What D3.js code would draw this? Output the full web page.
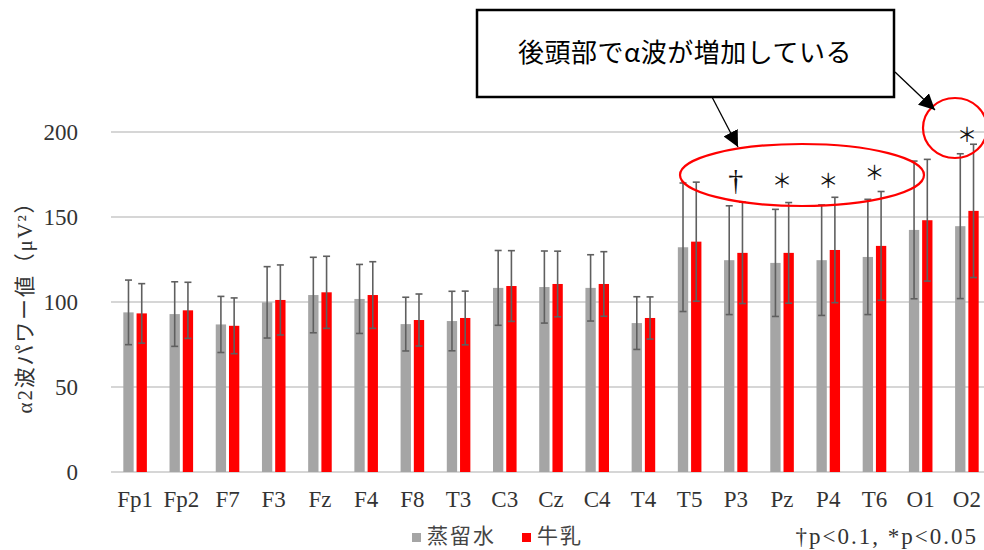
<!DOCTYPE html>
<html>
<head>
<meta charset="utf-8">
<script src="https://cdn.jsdelivr.net/npm/d3@7"></script>
<style>
  body { margin: 0; background: #fff; }
  svg { display: block; }
</style>
</head>
<body>
<svg id="chart"></svg>
<script>
// electrodes on the x axis
const categories = ['Fp1', 'Fp2', 'F7', 'F3', 'Fz', 'F4', 'F8', 'T3', 'C3', 'Cz', 'C4', 'T4', 'T5', 'P3', 'Pz', 'P4', 'T6', 'O1', 'O2']
const seriesNames = ['蒸留水', '牛乳']
// distilled water
const waterMean = [93.9, 92.9, 86.8, 99.8, 104.1, 101.8, 87.0, 88.8, 108.3, 108.8, 108.3, 87.6, 132.2, 124.6, 123.0, 124.6, 126.5, 142.4, 144.6]
const waterSD = [19.0, 19.0, 16.5, 21.0, 22.2, 20.3, 15.8, 17.5, 22.0, 21.2, 19.5, 15.5, 37.8, 32.0, 31.5, 32.5, 33.9, 40.5, 42.6]
// milk
const milkMean = [93.3, 95.1, 86.0, 101.2, 105.7, 104.1, 89.4, 90.6, 109.4, 110.6, 110.6, 90.6, 135.5, 128.9, 128.9, 130.6, 133.0, 148.1, 153.6]
const milkSD = [17.5, 16.5, 16.4, 20.6, 21.2, 19.6, 15.3, 15.8, 20.8, 19.3, 19.0, 12.4, 35.0, 29.8, 29.6, 31.0, 32.0, 35.8, 39.2]
const yTicks = [0, 50, 100, 150, 200]
// significance marks (electrode, symbol, height in µV²)
const sigMarks = [
  { cat: 'P3', sym: '†', at: 172 },
  { cat: 'Pz', sym: '＊', at: 171 },
  { cat: 'P4', sym: '＊', at: 171 },
  { cat: 'T6', sym: '＊', at: 176 },
  { cat: 'O2', sym: '＊', at: 198 }
]

const colors = ['#a5a5a5', '#ff0000']
const svgWidth = 984
const svgHeight = 550
const margin = { top: 132, right: -6, bottom: 78, left: 112 }
const width = svgWidth - margin.left - margin.right
const height = svgHeight - margin.top - margin.bottom

const svg = d3.select('#chart')
  .attr('width', svgWidth)
  .attr('height', svgHeight)

const g = svg.append('g')
  .attr('transform', `translate(${margin.left}, ${margin.top})`)

const x = d3.scaleBand()
  .domain(categories)
  .range([0, width])
  .paddingInner(0.49)
  .paddingOuter(0.245)

const xs = d3.scaleBand()
  .domain([0, 1])
  .range([0, x.bandwidth()])
  .paddingInner(0.22)

const y = d3.scaleLinear()
  .domain([0, 200])
  .range([height, 0])

// gridlines
g.selectAll('.grid')
  .data(yTicks)
  .enter().append('line')
  .attr('x1', -1)
  .attr('x2', width)
  .attr('y1', d => y(d))
  .attr('y2', d => y(d))
  .attr('stroke', '#c8c8c8')
  .attr('stroke-width', 1.6)

// y tick labels
g.selectAll('.ytick')
  .data(yTicks)
  .enter().append('text')
  .attr('x', -34)
  .attr('y', d => y(d))
  .attr('dy', '0.34em')
  .attr('text-anchor', 'end')
  .attr('font-family', '"Liberation Serif", serif')
  .attr('font-size', 23)
  .attr('fill', '#333')
  .text(d => d)

// x labels
g.selectAll('.xtick')
  .data(categories)
  .enter().append('text')
  .attr('x', d => x(d) + x.bandwidth() / 2)
  .attr('y', height + 35)
  .attr('text-anchor', 'middle')
  .attr('font-family', '"Liberation Serif", serif')
  .attr('font-size', 23)
  .attr('fill', '#333')
  .text(d => d)

const series = [
  categories.map((c, i) => ({ cat: c, v: waterMean[i], sd: waterSD[i], s: 0 })),
  categories.map((c, i) => ({ cat: c, v: milkMean[i], sd: milkSD[i], s: 1 }))
]
const flat = series[0].concat(series[1])

g.selectAll('.bar')
  .data(flat)
  .enter().append('rect')
  .attr('x', d => x(d.cat) + xs(d.s))
  .attr('width', xs.bandwidth())
  .attr('y', d => y(d.v))
  .attr('height', d => y(0) - y(d.v))
  .attr('fill', d => colors[d.s])

// error bars
const eb = g.selectAll('.err')
  .data(flat)
  .enter().append('g')
  .attr('stroke', '#5f5f5f')
  .attr('stroke-width', 1.6)
eb.append('line')
  .attr('x1', d => x(d.cat) + xs(d.s) + xs.bandwidth() / 2)
  .attr('x2', d => x(d.cat) + xs(d.s) + xs.bandwidth() / 2)
  .attr('y1', d => y(d.v + d.sd))
  .attr('y2', d => y(d.v - d.sd))
eb.selectAll('.cap')
  .data(d => [d.v + d.sd, d.v - d.sd].map(val => ({ d: d, val: val })))
  .enter().append('line')
  .attr('x1', o => x(o.d.cat) + xs(o.d.s) + xs.bandwidth() / 2 - 3.5)
  .attr('x2', o => x(o.d.cat) + xs(o.d.s) + xs.bandwidth() / 2 + 3.5)
  .attr('y1', o => y(o.val))
  .attr('y2', o => y(o.val))

// significance marks
g.selectAll('.sig')
  .data(sigMarks)
  .enter().append('text')
  .attr('x', d => x(d.cat) + x.bandwidth() / 2)
  .attr('y', d => y(d.at))
  .attr('dy', '0.35em')
  .attr('text-anchor', 'middle')
  .attr('font-family', d => d.sym === '†' ? '"Liberation Serif", serif' : '"Noto Sans CJK JP", sans-serif')
  .attr('font-size', d => d.sym === '†' ? 30 : 20)
  .attr('fill', '#111')
  .text(d => d.sym)

// y axis title
svg.append('text')
  .attr('transform', 'translate(25, 302) rotate(-90)')
  .attr('dy', '0.35em')
  .attr('text-anchor', 'middle')
  .attr('font-family', '"Liberation Serif", "Noto Sans CJK JP", serif')
  .attr('font-size', 21)
  .attr('letter-spacing', 1.8)
  .attr('fill', '#333')
  .text('α2波パワー値（μV²）')

// legend
const legend = svg.append('g')
  .attr('font-family', '"Noto Sans CJK JP", sans-serif')
  .attr('font-size', 21)
  .attr('fill', '#444')
const legendX = [412, 522]
seriesNames.forEach((name, i) => {
  legend.append('rect')
    .attr('x', legendX[i])
    .attr('y', 533)
    .attr('width', 9)
    .attr('height', 9)
    .attr('fill', colors[i])
  legend.append('text')
    .attr('x', legendX[i] + 15)
    .attr('y', 543)
    .attr('letter-spacing', 2)
    .text(name)
})
svg.append('text')
  .attr('x', 978)
  .attr('y', 544)
  .attr('text-anchor', 'end')
  .attr('font-family', '"Liberation Serif", serif')
  .attr('font-size', 23)
  .attr('letter-spacing', 2)
  .attr('fill', '#333')
  .text('†p<0.1, *p<0.05')

// callout and highlights
const defs = svg.append('defs')
defs.append('marker')
  .attr('id', 'arrow')
  .attr('viewBox', '0 0 10 10')
  .attr('refX', 10)
  .attr('refY', 5)
  .attr('markerWidth', 16)
  .attr('markerHeight', 16)
  .attr('markerUnits', 'userSpaceOnUse')
  .attr('orient', 'auto')
  .append('path')
  .attr('d', 'M0,0L10,5L0,10Z')
  .attr('fill', '#000')

svg.append('ellipse')
  .attr('cx', 802).attr('cy', 175)
  .attr('rx', 122).attr('ry', 31)
  .attr('fill', 'none').attr('stroke', '#ff0000').attr('stroke-width', 2.2)
svg.append('ellipse')
  .attr('cx', 955).attr('cy', 128)
  .attr('rx', 32).attr('ry', 30)
  .attr('fill', 'none').attr('stroke', '#ff0000').attr('stroke-width', 2.2)

svg.append('rect')
  .attr('x', 477).attr('y', 10)
  .attr('width', 417).attr('height', 87)
  .attr('fill', '#fff').attr('stroke', '#000').attr('stroke-width', 2.5)
svg.append('text')
  .attr('x', 685).attr('y', 53)
  .attr('dy', '0.36em')
  .attr('text-anchor', 'middle')
  .attr('font-family', '"Noto Sans CJK JP", sans-serif')
  .attr('font-size', 26)
  .attr('letter-spacing', 0.5)
  .attr('fill', '#000')
  .text('後頭部でα波が増加している')

svg.append('line')
  .attr('x1', 712).attr('y1', 97).attr('x2', 738).attr('y2', 147)
  .attr('stroke', '#000').attr('stroke-width', 1.3)
  .attr('marker-end', 'url(#arrow)')
svg.append('line')
  .attr('x1', 895).attr('y1', 72).attr('x2', 935).attr('y2', 110)
  .attr('stroke', '#000').attr('stroke-width', 1.3)
  .attr('marker-end', 'url(#arrow)')
</script>
</body>
</html>
